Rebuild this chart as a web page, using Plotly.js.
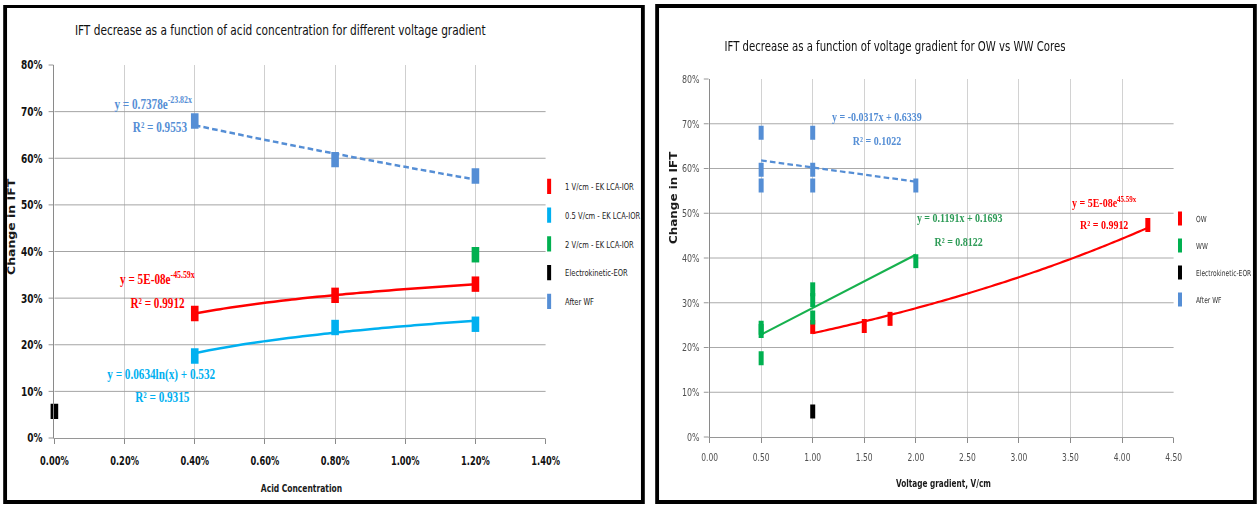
<!DOCTYPE html>
<html>
<head>
<meta charset="utf-8">
<script src="https://cdn.plot.ly/plotly-3.0.1.min.js"></script>
<style>
  html, body { margin: 0; padding: 0; background: #ffffff; width: 1257px; height: 507px; overflow: hidden; }
  /* both panels are laid out wide, then compressed horizontally */
  #stage { position: absolute; left: 0; top: 0; width: 1572px; height: 507px;
           transform: scaleX(0.8); transform-origin: 0 0; }
  .panel { position: absolute; background: #ffffff; border-style: solid; border-color: #000000; }
  #panelA { left: 4px; top: 5px; width: 792px; height: 492px; border-width: 3px 5px 4px 5px; }
  #panelB { left: 819px; top: 4px; width: 742px; height: 492px; border-width: 4px 5px 4px 5px; }
</style>
</head>
<body>
<div id="stage">
  <div class="panel" id="panelA"><div id="chartA"></div></div>
  <div class="panel" id="panelB"><div id="chartB"></div></div>
</div>
<script>
// ---------- IFT change vs acid concentration ----------
const acidConc     = [0.004, 0.008, 0.012];
const ift1Vcm      = [0.267, 0.306, 0.330];
const ift05Vcm     = [0.176, 0.237, 0.244];
const acid2Vcm     = [0.012];
const ift2Vcm      = [0.393];
const acidEOR      = [0.000];
const iftEORacid   = [0.057];
const iftAfterWF   = [0.680, 0.597, 0.562];

// trendline coefficients as printed on the chart
const wfExpFit     = [0.7378, -23.82];   // y = a * e^(b x)
const lowGradLog   = [0.0634, 0.532];    // y = a * ln(x) + b
const acidR2       = ['0.9553', '0.9912', '0.9315'];
const acidSeriesNames = ['1 V/cm - EK LCA-IOR', '0.5 V/cm - EK LCA-IOR', '2 V/cm - EK LCA-IOR',
                         'Electrokinetic-EOR', 'After WF'];

// ---------- IFT change vs voltage gradient ----------
const owGrad   = [1.0, 1.5, 1.75, 4.25];
const owIFT    = [0.246, 0.248, 0.264, 0.474];
const wwGrad   = [0.5, 0.5, 0.5, 1.0, 1.0, 1.0, 2.0];
const wwIFT    = [0.176, 0.237, 0.244, 0.267, 0.306, 0.330, 0.393];
const eorGrad  = [1.0];
const eorIFT   = [0.057];
const wfGrad   = [0.5, 0.5, 0.5, 1.0, 1.0, 1.0, 2.0];
const wfIFT    = [0.680, 0.597, 0.562, 0.680, 0.597, 0.562, 0.562];

const wfLinFit = [-0.0317, 0.6339];      // y = a x + b
const wwLinFit = [0.1191, 0.1693];
const gradR2   = ['0.1022', '0.8122', '0.9912'];
const gradSeriesNames = ['OW', 'WW', 'Electrokinetic-EOR', 'After WF'];

// ---------- styling ----------
const RED = '#FF0000', CYAN = '#00B0F0', GREEN = '#00B050', BLACK = '#000000', WFBLUE = '#558ED5';
const NARROW = '"DejaVu Sans Condensed", "Liberation Sans", sans-serif';
const SERIF  = '"Liberation Serif", "Times New Roman", serif';
const WIDE   = '"DejaVu Sans", Verdana, sans-serif';

// ---------- helpers ----------
function sample(lo, hi, n) {
  const out = [];
  for (let i = 0; i < n; i++) out.push(lo + (hi - lo) * i / (n - 1));
  return out;
}
function mean(a) { return a.reduce((s, v) => s + v, 0) / a.length; }
function linFit(xs, ys) {
  const mx = mean(xs), my = mean(ys);
  let sxy = 0, sxx = 0;
  xs.forEach((x, i) => { sxy += (x - mx) * (ys[i] - my); sxx += (x - mx) * (x - mx); });
  const slope = sxy / sxx;
  return [slope, my - slope * mx];
}
// least squares on ln(x): y = a ln(x) + b
function logFit(xs, ys) { return linFit(xs.map(Math.log), ys); }
// least squares on ln(y): y = a e^(b x)
function expFit(xs, ys) {
  const [b, lnA] = linFit(xs, ys.map(Math.log));
  return [Math.exp(lnA), b];
}
function barMarker(color, w, h) {
  return { symbol: 'line-ns', size: h, color: color, line: { color: color, width: w } };
}
function pts(name, xs, ys, color, w, h, group) {
  return { type: 'scatter', mode: 'markers', name: name, x: xs, y: ys, legendgroup: group,
           marker: barMarker(color, w, h), cliponaxis: false };
}
function curve(xs, f, color, width, dash) {
  return { type: 'scatter', mode: 'lines', x: xs, y: xs.map(f), showlegend: false,
           line: { color: color, width: width, dash: dash || 'solid', shape: 'spline' }, hoverinfo: 'skip' };
}
function note(x, y, text, color, size) {
  return { x: x, y: y, xref: 'x', yref: 'y', text: text, showarrow: false,
           xanchor: 'center', yanchor: 'middle',
           font: { family: SERIF, size: size, color: color, weight: 'bold' } };
}
function fmtLin(c) {
  return 'y = ' + c[0] + 'x + ' + c[1];
}

// ---------- chart A: acid concentration ----------
const redLog = logFit(acidConc, ift1Vcm);
const acidSpan = sample(Math.min(...acidConc), Math.max(...acidConc), 40);

const tracesA = [
  curve(acidSpan, x => wfExpFit[0] * Math.exp(wfExpFit[1] * x), WFBLUE, 2.5, '7px,4px'),
  curve(acidSpan, x => redLog[0] * Math.log(x) + redLog[1], RED, 2.5),
  curve(acidSpan, x => lowGradLog[0] * Math.log(x) + lowGradLog[1], CYAN, 2.5),
  pts(acidSeriesNames[0], acidConc, ift1Vcm, RED, 9.5, 11, 'a1'),
  pts(acidSeriesNames[1], acidConc, ift05Vcm, CYAN, 9.5, 11, 'a2'),
  pts(acidSeriesNames[2], acid2Vcm, ift2Vcm, GREEN, 9.5, 11, 'a3'),
  pts(acidSeriesNames[3], acidEOR, iftEORacid, BLACK, 9.5, 11, 'a4'),
  pts(acidSeriesNames[4], acidConc, iftAfterWF, WFBLUE, 9.5, 11, 'a5')
];

const layoutA = {
  width: 792, height: 492,
  margin: { l: 58.5, r: 118.5, t: 57, b: 62, pad: 0, autoexpand: false },
  paper_bgcolor: '#ffffff', plot_bgcolor: '#ffffff',
  title: { text: 'IFT decrease as a function of acid concentration for different voltage gradient',
           font: { family: NARROW, size: 14.7, color: '#111111' },
           xref: 'container', x: 0.431, xanchor: 'center', yref: 'container', y: 0.955, yanchor: 'middle' },
  xaxis: { range: [0, 0.014], tick0: 0, dtick: 0.002, tickformat: '.2%',
           showgrid: true, gridcolor: '#cfcfcf', gridwidth: 1.25, zeroline: false,
           showline: true, linecolor: '#8a8a8a', linewidth: 1, ticks: 'outside', ticklen: 5, tickcolor: '#8a8a8a',
           tickwidth: 1.25, ticklabelstandoff: 7,
           tickfont: { family: NARROW, size: 11.5, color: '#111111', weight: 'bold' }, fixedrange: true },
  yaxis: { range: [0, 0.8], tick0: 0, dtick: 0.1, tickformat: '.0%',
           showgrid: true, gridcolor: '#9a9a9a', gridwidth: 1, zeroline: false,
           showline: true, linecolor: '#8a8a8a', linewidth: 1.25, ticks: 'outside', ticklen: 6, tickcolor: '#8a8a8a',
           ticklabelstandoff: 5,
           tickfont: { family: NARROW, size: 12.5, color: '#111111', weight: 'bold' }, fixedrange: true },
  showlegend: true,
  legend: { x: 0.9746, xanchor: 'left', y: 0.7135, yanchor: 'top', traceorder: 'grouped', tracegroupgap: 9.75,
            bgcolor: 'rgba(0,0,0,0)', borderwidth: 0,
            font: { family: NARROW, size: 9.4, color: '#1a1a1a' } },
  annotations: [
    note(0.002817, 0.7185, 'y = ' + wfExpFit[0] + 'e<sup>' + wfExpFit[1] + 'x</sup>', WFBLUE, 14),
    note(0.0030, 0.667, 'R² = ' + acidR2[0], WFBLUE, 14),
    note(0.00293, 0.343, 'y = 5E-08e<sup>-45.59x</sup>', RED, 14),
    note(0.00293, 0.2895, 'R² = ' + acidR2[1], RED, 14),
    note(0.003045, 0.1351, 'y = ' + lowGradLog[0] + 'ln(x) + ' + lowGradLog[1], CYAN, 14),
    note(0.003073, 0.0879, 'R² = ' + acidR2[2], CYAN, 14),
    { text: 'Change in IFT', xref: 'paper', yref: 'paper', x: -0.088, y: 0.568, textangle: -90,
      showarrow: false, xanchor: 'center', yanchor: 'middle',
      font: { family: WIDE, size: 12.5, color: '#1a1a1a', weight: 'bold' } },
    { text: 'Acid Concentration', xref: 'paper', yref: 'paper', x: 0.503, y: 0, yshift: -49.5,
      showarrow: false, xanchor: 'center', yanchor: 'middle',
      font: { family: NARROW, size: 10.5, color: '#1a1a1a', weight: 'bold' } }
  ]
};

// ---------- chart B: voltage gradient ----------
const owExp = expFit(owGrad, owIFT);
const owSpan = sample(Math.min(...owGrad), Math.max(...owGrad), 60);
const wwSpan = sample(Math.min(...wwGrad), Math.max(...wwGrad), 2);
const wfSpan = sample(Math.min(...wfGrad), Math.max(...wfGrad), 2);

const tracesB = [
  curve(wfSpan, x => wfLinFit[0] * x + wfLinFit[1], WFBLUE, 2.25, '7px,4px'),
  curve(wwSpan, x => wwLinFit[0] * x + wwLinFit[1], '#17B14E', 2.25),
  curve(owSpan, x => owExp[0] * Math.exp(owExp[1] * x), RED, 2.25),
  pts(gradSeriesNames[0], owGrad, owIFT, RED, 6.25, 10, 'b1'),
  pts(gradSeriesNames[1], wwGrad, wwIFT, GREEN, 6.25, 10, 'b2'),
  pts(gradSeriesNames[2], eorGrad, eorIFT, BLACK, 6.25, 10, 'b3'),
  pts(gradSeriesNames[3], wfGrad, wfIFT, WFBLUE, 6.25, 10, 'b4')
];

const layoutB = {
  width: 742, height: 492,
  margin: { l: 62.5, r: 99, t: 71, b: 63, pad: 0, autoexpand: false },
  paper_bgcolor: '#ffffff', plot_bgcolor: '#ffffff',
  title: { text: 'IFT decrease as a function of voltage gradient for OW vs WW Cores',
           font: { family: NARROW, size: 14.1, color: '#111111' },
           xref: 'container', x: 0.3973, xanchor: 'center', yref: 'container', y: 0.9228, yanchor: 'middle' },
  xaxis: { range: [0, 4.5], tick0: 0, dtick: 0.5, tickformat: '.2f',
           showgrid: true, gridcolor: '#d2d2d2', gridwidth: 1.25, zeroline: false,
           showline: true, linecolor: '#8a8a8a', linewidth: 1, ticks: 'outside', ticklen: 5, tickcolor: '#8a8a8a',
           tickwidth: 1.25, ticklabelstandoff: 5,
           tickfont: { family: NARROW, size: 10.5, color: '#505050' }, fixedrange: true },
  yaxis: { range: [0, 0.8], tick0: 0, dtick: 0.1, tickformat: '.0%',
           showgrid: true, gridcolor: '#a0a0a0', gridwidth: 1, zeroline: false,
           showline: true, linecolor: '#8a8a8a', linewidth: 1.25, ticks: 'outside', ticklen: 6, tickcolor: '#8a8a8a',
           ticklabelstandoff: 3,
           tickfont: { family: NARROW, size: 11, color: '#505050' }, fixedrange: true },
  showlegend: true,
  legend: { x: 0.9793, xanchor: 'left', y: 0.651, yanchor: 'top', traceorder: 'grouped', tracegroupgap: 8,
            bgcolor: 'rgba(0,0,0,0)', borderwidth: 0,
            font: { family: NARROW, size: 8.3, color: '#333333' } },
  annotations: [
    note(1.618, 0.715, fmtLin(wfLinFit), WFBLUE, 12.5),
    note(1.623, 0.661, 'R² = ' + gradR2[0], WFBLUE, 12.5),
    note(2.422, 0.4894, fmtLin(wwLinFit), '#2E9B57', 12.5),
    note(2.417, 0.4358, 'R² = ' + gradR2[1], '#2E9B57', 12.5),
    note(3.827, 0.5251, 'y = 5E-08e<sup>45.59x</sup>', RED, 12.5),
    note(3.827, 0.4737, 'R² = ' + gradR2[2], RED, 12.5),
    { text: 'Change in IFT', xref: 'paper', yref: 'paper', x: -0.0765, y: 0.669, textangle: -90,
      showarrow: false, xanchor: 'center', yanchor: 'middle',
      font: { family: WIDE, size: 12, color: '#1a1a1a', weight: 'bold' } },
    { text: 'Voltage gradient, V/cm', xref: 'paper', yref: 'paper', x: 0.504, y: 0, yshift: -46,
      showarrow: false, xanchor: 'center', yanchor: 'middle',
      font: { family: NARROW, size: 10.2, color: '#1a1a1a', weight: 'bold' } }
  ]
};

const cfg = { displayModeBar: false, staticPlot: true, responsive: false };
Plotly.newPlot('chartA', tracesA, layoutA, cfg);
Plotly.newPlot('chartB', tracesB, layoutB, cfg);
</script>
</body>
</html>
